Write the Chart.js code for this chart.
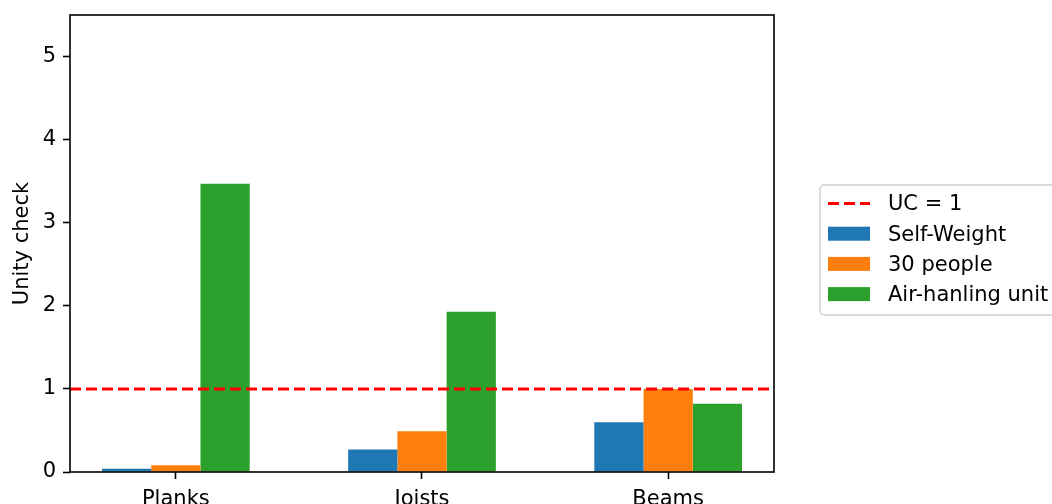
<!DOCTYPE html>
<html>
<head>
<meta charset="utf-8">
<script src="https://cdn.jsdelivr.net/npm/chart.js@4.4.1/dist/chart.umd.min.js"></script>
<style>
  html, body { margin: 0; padding: 0; background: #fff; overflow: hidden; }
  #wrap { width: 1052px; height: 504px; position: relative; }
</style>
</head>
<body>
<div id="wrap"><canvas id="ucChart"></canvas></div>
<script>
// Members checked and the unity check value per load case
const members = ["Planks", "Joists", "Beams"];
const selfWeight = [0.04, 0.27, 0.6];
const people30 = [0.08, 0.49, 1.0];
const airHandling = [3.47, 1.93, 0.82];
const ucLimit = 1;
const yTicks = [0, 1, 2, 3, 4, 5];

const FONT = "'DejaVu Sans', sans-serif";
const FONT_SIZE = 21;

// Turn a series into {x, y} points on the numeric member axis
function toPoints(values) {
  return values.map((v, i) => ({ x: i, y: v }));
}

// Plain frame on all four sides, drawn over the bars
const framePlugin = {
  id: "frame",
  afterDatasetsDraw(chart) {
    const { ctx, chartArea: a } = chart;
    ctx.save();
    ctx.strokeStyle = "#000";
    ctx.lineWidth = 1.6;
    ctx.strokeRect(a.left, a.top, a.right - a.left, a.bottom - a.top);
    ctx.restore();
  },
};

// Legend box sitting to the right of the plot
const sideLegend = {
  id: "sideLegend",
  afterDraw(chart) {
    const { ctx, chartArea: a } = chart;
    const ds = chart.data.datasets;
    const x0 = a.right + 46;
    const rowH = 30.2;
    const top = 185;
    const boxH = 130;
    ctx.save();
    ctx.beginPath();
    ctx.roundRect(x0, top, 260, boxH, 4);
    ctx.fillStyle = "rgba(255,255,255,0.8)";
    ctx.fill();
    ctx.strokeStyle = "#d0d0d0";
    ctx.lineWidth = 1.5;
    ctx.stroke();

    ctx.font = FONT_SIZE + "px " + FONT;
    ctx.textBaseline = "middle";
    ds.forEach((d, i) => {
      const cy = top + 18.5 + i * rowH;
      if (d.type === "line") {
        ctx.beginPath();
        ctx.setLineDash(d.borderDash);
        ctx.strokeStyle = d.borderColor;
        ctx.lineWidth = d.borderWidth;
        ctx.moveTo(x0 + 8, cy);
        ctx.lineTo(x0 + 50, cy);
        ctx.stroke();
        ctx.setLineDash([]);
      } else {
        ctx.fillStyle = d.backgroundColor;
        ctx.fillRect(x0 + 8, cy - 7, 42, 14);
      }
      ctx.fillStyle = "#000";
      ctx.fillText(d.label, x0 + 68, cy + 1.5);
    });
    ctx.restore();
  },
};

const tickGrid = {
  display: true,
  offset: false,
  drawOnChartArea: false,
  drawTicks: true,
  tickLength: 7,
  tickWidth: 1.6,
  tickColor: "#000",
};

new Chart(document.getElementById("ucChart"), {
  type: "bar",
  data: {
    datasets: [
      {
        type: "line",
        label: "UC = " + ucLimit,
        data: [{ x: -0.43, y: ucLimit }, { x: 2.43, y: ucLimit }],
        borderColor: "#ff0000",
        borderWidth: 3,
        borderDash: [11, 5],
        pointRadius: 0,
        fill: false,
        order: 0,
      },
      {
        type: "bar",
        label: "Self-Weight",
        data: toPoints(selfWeight),
        backgroundColor: "#1f77b4",
        order: 1,
      },
      {
        type: "bar",
        label: "30 people",
        data: toPoints(people30),
        backgroundColor: "#ff7f0e",
        order: 1,
      },
      {
        type: "bar",
        label: "Air-hanling unit",
        data: toPoints(airHandling),
        backgroundColor: "#2ca02c",
        order: 1,
      },
    ],
  },
  options: {
    responsive: true,
    maintainAspectRatio: false,
    animation: false,
    devicePixelRatio: 1,
    layout: { padding: { top: 15, right: 278, left: 0, bottom: 0 } },
    datasets: {
      bar: { categoryPercentage: 0.6, barPercentage: 1.0, borderWidth: 0 },
    },
    plugins: {
      legend: { display: false },
      tooltip: { enabled: false },
    },
    scales: {
      x: {
        type: "linear",
        offset: false,
        min: -0.43,
        max: 2.43,
        grid: tickGrid,
        border: { display: false },
        afterBuildTicks(scale) {
          scale.ticks = members.map((_, i) => ({ value: i }));
        },
        afterFit(scale) {
          scale.height = 32;
          scale.paddingLeft = 0;
          scale.paddingRight = 0;
        },
        ticks: {
          autoSkip: false,
          maxRotation: 0,
          padding: 8,
          color: "#000",
          font: { family: FONT, size: FONT_SIZE },
          callback: (v) => members[v],
        },
      },
      y: {
        type: "linear",
        min: 0,
        max: 5.5,
        grid: tickGrid,
        border: { display: false },
        afterBuildTicks(scale) {
          scale.ticks = yTicks.map((v) => ({ value: v }));
        },
        afterFit(scale) {
          scale.width = 70;
          scale.paddingTop = 0;
          scale.paddingBottom = 0;
        },
        title: {
          display: true,
          text: "Unity check",
          color: "#000",
          font: { family: FONT, size: FONT_SIZE },
          padding: { top: 10, bottom: 0 },
        },
        ticks: {
          padding: 7,
          color: "#000",
          font: { family: FONT, size: FONT_SIZE },
        },
      },
    },
  },
  plugins: [framePlugin, sideLegend],
});
</script>
</body>
</html>
